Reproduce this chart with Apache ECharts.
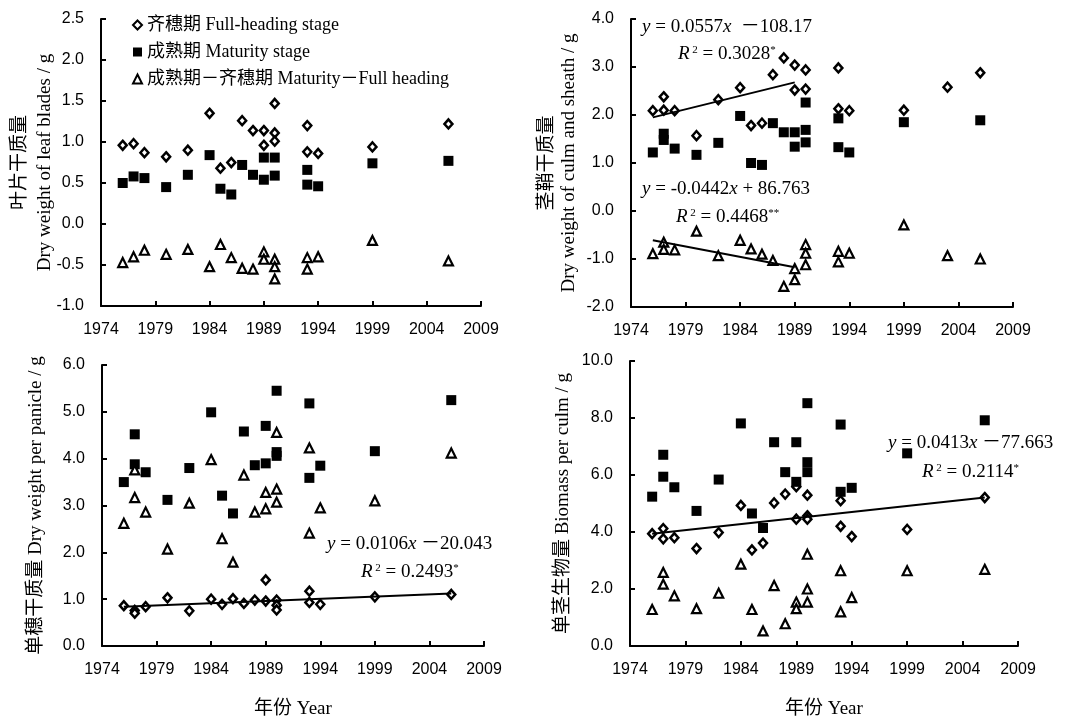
<!DOCTYPE html>
<html>
<head>
<meta charset="utf-8">
<script src="https://cdn.jsdelivr.net/npm/echarts@6/dist/echarts.min.js"></script>
<style>
  html, body { margin: 0; padding: 0; background: #fff; }
  #main { width: 1088px; height: 720px; }
</style>
</head>
<body>
<div id="main"></div>
<script>
// 叶片干质量
var leafFull = [[1976,0.96],[1977,0.98],[1978,0.87],[1980,0.82],[1982,0.90],[1984,1.35],[1985,0.68],[1986,0.75],[1987,1.26],[1988,1.14],[1989,1.14],[1989,0.96],[1990,1.47],[1990,1.11],[1990,1.01],[1993,1.20],[1993,0.88],[1994,0.86],[1999,0.94],[2006,1.22]];
var leafMat = [[1976,0.50],[1977,0.58],[1978,0.56],[1980,0.45],[1982,0.60],[1984,0.84],[1985,0.43],[1986,0.36],[1987,0.72],[1988,0.60],[1989,0.81],[1989,0.54],[1990,0.81],[1990,0.59],[1993,0.66],[1993,0.48],[1994,0.46],[1999,0.74],[2006,0.77]];
var leafDiff = [[1976,-0.47],[1977,-0.40],[1978,-0.32],[1980,-0.37],[1982,-0.31],[1984,-0.52],[1985,-0.25],[1986,-0.41],[1987,-0.54],[1988,-0.55],[1989,-0.34],[1989,-0.43],[1990,-0.43],[1990,-0.52],[1990,-0.67],[1993,-0.41],[1993,-0.55],[1994,-0.40],[1999,-0.20],[2006,-0.45]];

// 茎鞘干质量
var culmFull = [[1976,2.09],[1977,2.38],[1977,2.10],[1978,2.09],[1980,1.57],[1982,2.32],[1984,2.57],[1985,1.78],[1986,1.83],[1987,2.84],[1988,3.19],[1989,3.04],[1989,2.52],[1990,2.94],[1990,2.54],[1993,2.98],[1993,2.13],[1994,2.09],[1999,2.10],[2003,2.58],[2006,2.88]];
var culmMat = [[1976,1.22],[1977,1.61],[1977,1.48],[1978,1.30],[1980,1.17],[1982,1.42],[1984,1.98],[1985,1.00],[1986,0.96],[1987,1.83],[1988,1.64],[1989,1.64],[1989,1.34],[1990,2.26],[1990,1.69],[1990,1.43],[1993,1.93],[1993,1.33],[1994,1.22],[1999,1.85],[2006,1.89]];
var culmDiff = [[1976,-0.89],[1977,-0.65],[1977,-0.80],[1978,-0.81],[1980,-0.42],[1982,-0.93],[1984,-0.61],[1985,-0.79],[1986,-0.90],[1987,-1.03],[1988,-1.57],[1989,-1.20],[1989,-1.43],[1990,-0.70],[1990,-0.88],[1990,-1.12],[1993,-0.84],[1993,-1.06],[1994,-0.88],[1999,-0.29],[2003,-0.93],[2006,-1.00]];
var culmFullTrend = [[1976,1.95],[1989,2.68]];
var culmDiffTrend = [[1976,-0.61],[1989,-1.17]];

// 单穗干质量
var panFull = [[1976,0.86],[1977,0.76],[1977,0.70],[1978,0.84],[1980,1.03],[1982,0.75],[1984,1.00],[1985,0.89],[1986,1.01],[1987,0.91],[1988,0.98],[1989,1.41],[1989,0.96],[1990,0.98],[1990,0.87],[1990,0.77],[1993,1.17],[1993,0.93],[1994,0.89],[1999,1.05],[2006,1.10]];
var panMat = [[1976,3.50],[1977,4.52],[1977,3.88],[1978,3.71],[1980,3.12],[1982,3.80],[1984,4.99],[1985,3.21],[1986,2.83],[1987,4.58],[1988,3.86],[1989,4.70],[1989,3.90],[1990,5.45],[1990,4.14],[1990,4.06],[1993,5.18],[1993,3.59],[1994,3.85],[1999,4.16],[2006,5.25]];
var panDiff = [[1976,2.62],[1977,3.76],[1977,3.17],[1978,2.86],[1980,2.07],[1982,3.05],[1984,3.98],[1985,2.29],[1986,1.79],[1987,3.65],[1988,2.86],[1989,3.28],[1989,2.93],[1990,4.56],[1990,3.35],[1990,3.07],[1993,4.23],[1993,2.41],[1994,2.95],[1999,3.10],[2006,4.12]];
var panFullTrend = [[1976,0.84],[2006,1.12]];

// 单茎生物量
var bioFull = [[1976,3.94],[1977,4.12],[1977,3.76],[1978,3.80],[1980,3.42],[1982,3.98],[1984,4.93],[1985,3.37],[1986,3.61],[1987,5.02],[1988,5.33],[1989,5.59],[1989,4.45],[1990,5.29],[1990,4.57],[1990,4.45],[1993,5.10],[1993,4.20],[1994,3.84],[1999,4.09],[2006,5.21]];
var bioMat = [[1976,5.24],[1977,6.71],[1977,5.94],[1978,5.57],[1980,4.74],[1982,5.84],[1984,7.81],[1985,4.65],[1986,4.14],[1987,7.15],[1988,6.10],[1989,7.15],[1989,5.76],[1990,8.52],[1990,6.45],[1990,6.10],[1993,7.77],[1993,5.41],[1994,5.55],[1999,6.76],[2006,7.92]];
var bioDiff = [[1976,1.28],[1977,2.58],[1977,2.17],[1978,1.76],[1980,1.31],[1982,1.85],[1984,2.87],[1985,1.28],[1986,0.53],[1987,2.12],[1988,0.78],[1989,1.54],[1989,1.31],[1990,3.22],[1990,2.00],[1990,1.54],[1993,2.64],[1993,1.20],[1994,1.70],[1999,2.64],[2006,2.69]];
var bioFullTrend = [[1976,3.94],[2006,5.21]];

var yearMin = 1974, yearMax = 2009, yearStep = 5;
var yRanges = [[-1, 2.5, 0.5], [-2, 4, 1], [0, 6, 1], [0, 10, 2]];
var yNames = [
  "叶片干质量\nDry weight of leaf blades / g",
  "茎鞘干质量\nDry weight of culm and sheath / g",
  "单穗干质量 Dry weight per panicle / g",
  "单茎生物量 Biomass per culm / g"
];
var nameFull = "齐穗期 Full-heading stage";
var nameMat = "成熟期 Maturity stage";
var nameDiff = "成熟期－齐穗期 Maturity－Full heading";

var serif = "'Liberation Serif', 'Noto Sans CJK SC', serif";
var sans = "'Liberation Sans', Arial, sans-serif";

var grids = [
  { left: 101, top: 19, width: 380, height: 287 },
  { left: 631, top: 19, width: 382, height: 288 },
  { left: 102, top: 365, width: 382, height: 284 },
  { left: 630, top: 361, width: 388, height: 292 }
];
var yGaps = [43, 51, 56, 57];
var yLineHeights = [25, 22, 20, 20];

var axisLine = { onZero: false, lineStyle: { color: "#000", width: 2 } };
var axisTick = { inside: true, length: 5, lineStyle: { color: "#000", width: 2 } };

var xAxes = [], yAxes = [];
for (var i = 0; i < 4; i++) {
  xAxes.push({
    gridIndex: i,
    type: "value",
    min: yearMin,
    max: yearMax,
    interval: yearStep,
    axisLine: axisLine,
    axisTick: axisTick,
    splitLine: { show: false },
    axisLabel: {
      color: "#000", fontFamily: sans, fontSize: 16, margin: 16,
      formatter: function (v) { return String(v); }
    },
    name: i >= 2 ? "年份 Year" : "",
    nameLocation: "middle",
    nameGap: 54,
    nameMoveOverlap: false,
    nameTextStyle: { color: "#000", fontFamily: serif, fontSize: 19 }
  });
  yAxes.push({
    gridIndex: i,
    type: "value",
    min: yRanges[i][0],
    max: yRanges[i][1],
    interval: yRanges[i][2],
    axisLine: axisLine,
    axisTick: axisTick,
    splitLine: { show: false },
    axisLabel: {
      color: "#000", fontFamily: sans, fontSize: 16, margin: 17,
      formatter: function (v) { return v.toFixed(1); }
    },
    name: yNames[i],
    nameLocation: "middle",
    nameRotate: 90,
    nameGap: yGaps[i],
    nameMoveOverlap: false,
    nameTextStyle: { color: "#000", fontFamily: serif, fontSize: 19, lineHeight: yLineHeights[i] }
  });
}

var fullStyle = { color: "#fff", borderColor: "#000", borderWidth: 2.5, opacity: 1 };
var matStyle = { color: "#000", opacity: 1 };
var diffStyle = { color: "#fff", borderColor: "#000", borderWidth: 2.2, opacity: 1 };

function scatter(name, data, idx, symbol, size, style) {
  return {
    name: name, type: "scatter", xAxisIndex: idx, yAxisIndex: idx,
    data: data, symbol: symbol, symbolSize: size, itemStyle: style
  };
}
function trend(data, idx) {
  return {
    type: "line", xAxisIndex: idx, yAxisIndex: idx, data: data,
    symbol: "none", silent: true, lineStyle: { color: "#000", width: 2 }
  };
}

var series = [
  scatter(nameFull, leafFull, 0, "diamond", [8, 9], fullStyle),
  scatter(nameMat, leafMat, 0, "rect", 10, matStyle),
  scatter(nameDiff, leafDiff, 0, "triangle", 9, diffStyle),

  scatter(nameFull, culmFull, 1, "diamond", [8, 9], fullStyle),
  scatter(nameMat, culmMat, 1, "rect", 10, matStyle),
  scatter(nameDiff, culmDiff, 1, "triangle", 9, diffStyle),
  trend(culmFullTrend, 1),
  trend(culmDiffTrend, 1),

  scatter(nameFull, panFull, 2, "diamond", [8, 9], fullStyle),
  scatter(nameMat, panMat, 2, "rect", 10, matStyle),
  scatter(nameDiff, panDiff, 2, "triangle", 9, diffStyle),
  trend(panFullTrend, 2),

  scatter(nameFull, bioFull, 3, "diamond", [8, 9], fullStyle),
  scatter(nameMat, bioMat, 3, "rect", 10, matStyle),
  scatter(nameDiff, bioDiff, 3, "triangle", 9, diffStyle),
  trend(bioFullTrend, 3)
];

var rich = {
  i: { fontStyle: "italic", fontFamily: serif, fontSize: 19, color: "#000" },
  n: { fontFamily: serif, fontSize: 19, color: "#000" },
  s: { fontFamily: serif, fontSize: 11, color: "#000", verticalAlign: "top", padding: [0, 0, 8, 0] }
};
function eq(x, y, text) {
  return {
    type: "text", x: x, y: y, silent: true,
    style: { text: text, rich: rich, verticalAlign: "middle", fill: "#000" }
  };
}

var graphics = [
  eq(642, 27, "{i|y}{n| = 0.0557}{i|x}{n|  －108.17}"),
  eq(678, 54, "{i|R}{s| 2}{n| = 0.3028}{s|*}"),
  eq(642, 189, "{i|y}{n| = -0.0442}{i|x}{n| + 86.763}"),
  eq(676, 217, "{i|R}{s| 2}{n| = 0.4468}{s|**}"),
  eq(327, 544, "{i|y}{n| = 0.0106}{i|x}{n| －20.043}"),
  eq(361, 572, "{i|R}{s| 2}{n| = 0.2493}{s|*}"),
  eq(888, 443, "{i|y}{n| = 0.0413}{i|x}{n| －77.663}"),
  eq(922, 472, "{i|R}{s| 2}{n| = 0.2114}{s|*}")
];

var myChart = echarts.init(document.getElementById("main"), null, { renderer: "canvas" });
var option = {
  backgroundColor: "#fff",
  animation: false,
  grid: grids,
  xAxis: xAxes,
  yAxis: yAxes,
  legend: {
    data: [nameFull, nameMat, nameDiff],
    orient: "vertical",
    left: 127,
    top: 11,
    itemGap: 9,
    itemWidth: 9,
    itemHeight: 9,
    textStyle: { color: "#000", fontFamily: serif, fontSize: 18 }
  },
  graphic: graphics,
  series: series
};
myChart.setOption(option);
</script>
</body>
</html>
